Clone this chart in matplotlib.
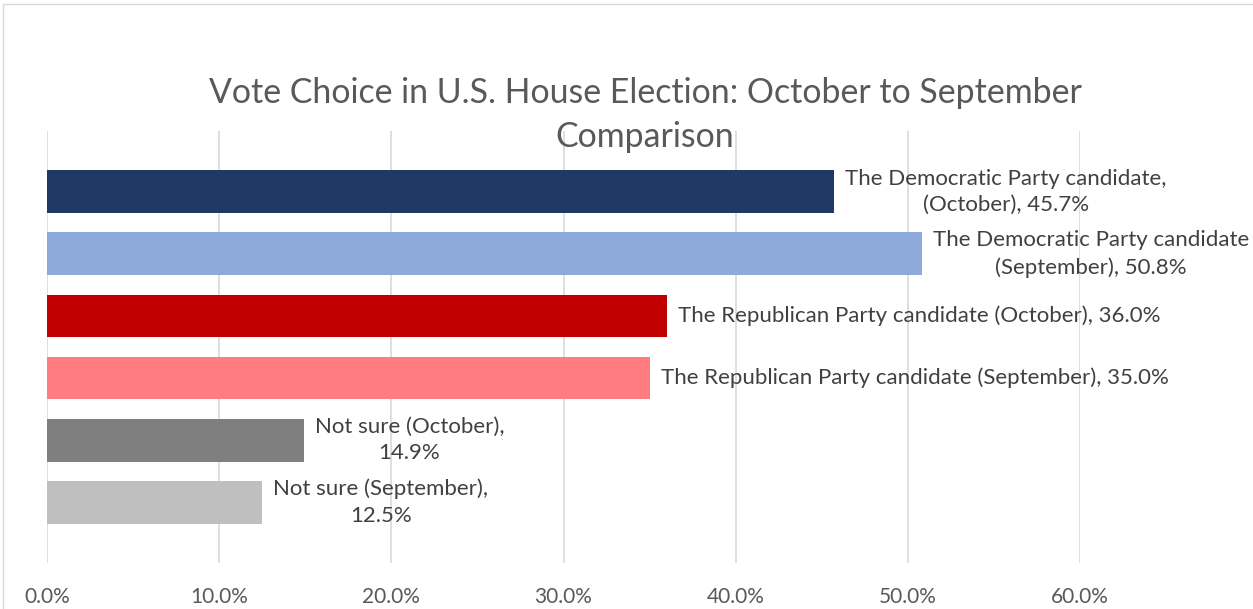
import matplotlib
matplotlib.use("Agg")
import matplotlib.pyplot as plt
from matplotlib.patches import Rectangle
from matplotlib.ticker import FuncFormatter

# ---- data ----
categories = [
    "The Democratic Party candidate,\n(October)",
    "The Democratic Party candidate\n(September)",
    "The Republican Party candidate (October)",
    "The Republican Party candidate (September)",
    "Not sure (October)",
    "Not sure (September)",
]
values = [45.7, 50.8, 36.0, 35.0, 14.9, 12.5]
label_sep = [", ", ", ", ", ", ", ", ",\n", ",\n"]
bar_colors = ["#1F3864", "#8EAADB", "#C00000", "#FF7C80", "#7F7F7F", "#BFBFBF"]
title = "Vote Choice in U.S. House Election: October to September\nComparison"
x_ticks = [0, 10, 20, 30, 40, 50, 60]

plt.rcParams["font.family"] = ["Lato", "DejaVu Sans"]

W, H = 1253, 609
fig = plt.figure(figsize=(W / 100, H / 100), dpi=100)
fig.patch.set_facecolor("white")

# chart border
fig.patches.append(Rectangle((3 / W, -0.1), 2.0, 1.1 - 4 / H, transform=fig.transFigure,
                             fill=False, edgecolor="#D9D9D9", linewidth=1.0))

left, right = 47 / W, 1080 / W
top, bottom = 1 - 131 / H, 1 - 563 / H
ax = fig.add_axes([left, bottom, right - left, top - bottom])

ypos = list(range(len(categories)))
ax.barh(ypos, values, height=0.69, color=bar_colors, zorder=3)
ax.set_xlim(0, 60)
ax.set_ylim(len(categories) - 1 + 0.98, -0.98)

ax.set_xticks(x_ticks)
ax.xaxis.set_major_formatter(FuncFormatter(lambda v, p: f"{v:.1f}%"))
ax.tick_params(axis="x", length=0, pad=17, labelsize=15, labelcolor="#595959")
ax.set_yticks([])
for s in ax.spines.values():
    s.set_visible(False)
ax.grid(axis="x", color="#D9D9D9", linewidth=1.2, zorder=0)
ax.set_axisbelow(True)

for y, c, v, sep in zip(ypos, categories, values, label_sep):
    ax.annotate(f"{c}{sep}{v:.1f}%", xy=(v, y), xytext=(8, 0), textcoords="offset points",
                ha="left", va="center", multialignment="center", fontsize=16,
                color="#404040", linespacing=1.4, annotation_clip=False)

fig.text(645 / W, 1 - 115 / H, title, ha="center", va="center", fontsize=24.4,
         color="#595959", linespacing=1.47)

fig.savefig("out.png", dpi=100)
